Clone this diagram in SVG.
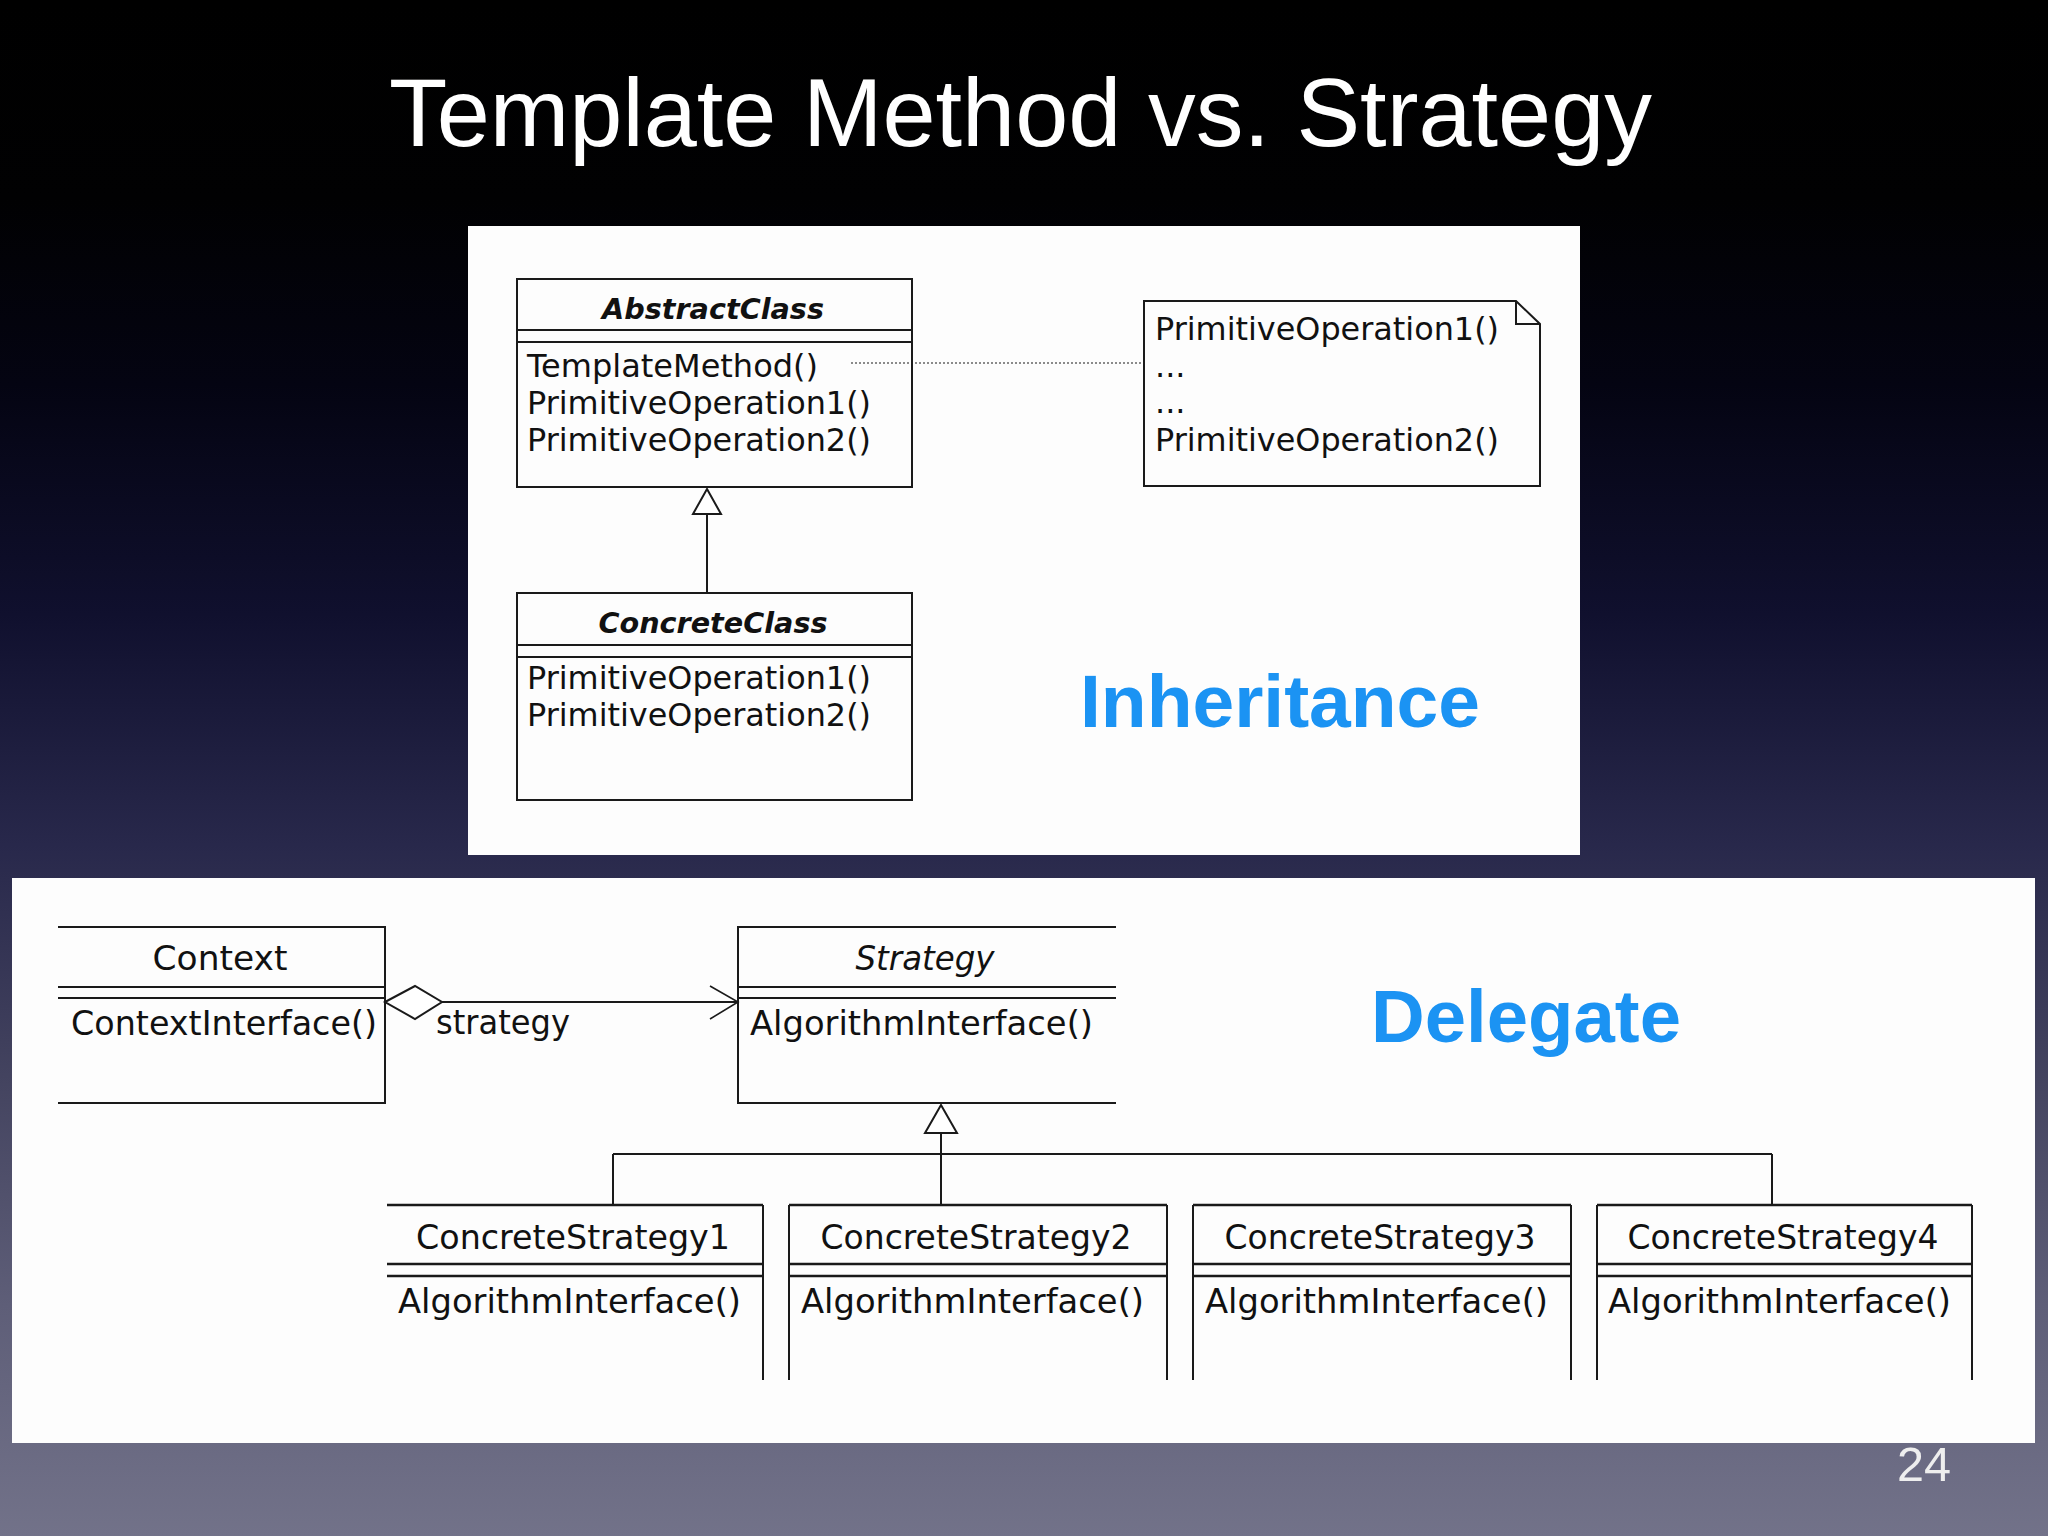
<svg xmlns="http://www.w3.org/2000/svg" width="2048" height="1536" viewBox="0 0 2048 1536">
<defs>
<linearGradient id="bg" x1="0" y1="0" x2="0" y2="1">
<stop offset="0" stop-color="#000000"/>
<stop offset="0.13" stop-color="#010102"/>
<stop offset="0.25" stop-color="#040412"/>
<stop offset="0.4" stop-color="#10102e"/>
<stop offset="0.55" stop-color="#28284b"/>
<stop offset="0.7" stop-color="#43435f"/>
<stop offset="0.85" stop-color="#5e5e78"/>
<stop offset="1" stop-color="#727289"/>
</linearGradient>
<style>
.ln{stroke:#1a1a1a;stroke-width:2;fill:none}
.tk{stroke:#1a1a1a;stroke-width:2.6;fill:none}
.sh{stroke:#1a1a1a;stroke-width:2;fill:#ffffff}
.tx{font-family:"DejaVu Sans",Verdana,sans-serif;font-size:32px;fill:#111111}
.bt{font-family:"DejaVu Sans",Verdana,sans-serif;font-size:33.5px;fill:#111111}
.ab{font-family:"DejaVu Sans",Verdana,sans-serif;font-size:29px;font-weight:bold;font-style:italic;fill:#111111}
.big{font-family:"Liberation Sans",Arial,sans-serif;font-size:75px;font-weight:bold;fill:#1b93f3}
.c{text-anchor:middle}
</style>
</defs>
<rect x="0" y="0" width="2048" height="1536" fill="url(#bg)"/>
<text x="389" y="146" font-family="'Liberation Sans',Arial,sans-serif" font-size="96" fill="#ffffff" textLength="1263" lengthAdjust="spacingAndGlyphs">Template Method vs. Strategy</text>

<rect x="468" y="226" width="1112" height="629" fill="#fdfdfd"/>
<rect x="12" y="878" width="2023" height="565" fill="#fdfdfd"/>

<g id="connectors">
<line x1="851" y1="363" x2="1144" y2="363" stroke="#666" stroke-width="1.5" stroke-dasharray="2 2"/>
<line class="ln" x1="707" y1="514" x2="707" y2="593"/>
<path class="sh" d="M707,489 L721,514 L693,514 Z"/>
<line class="ln" x1="442" y1="1002" x2="738" y2="1002"/>
<path class="sh" d="M385,1002 L415,986 L442,1002 L415,1019 Z" stroke-width="1.6"/>
<path d="M710,986 L738,1002 L710,1019" fill="none" stroke="#1a1a1a" stroke-width="1.6"/>
<text class="bt" x="436" y="1034" textLength="134" lengthAdjust="spacingAndGlyphs">strategy</text>
<line class="ln" x1="941" y1="1133" x2="941" y2="1205"/>
<path class="sh" d="M941,1105 L957,1133 L925,1133 Z"/>
<line class="ln" x1="613" y1="1154" x2="1772" y2="1154"/>
<line class="ln" x1="613" y1="1154" x2="613" y2="1205"/>
<line class="ln" x1="1772" y1="1154" x2="1772" y2="1205"/>
</g>

<g id="abstractclass">
<rect class="ln" x="517" y="279" width="395" height="208"/>
<line class="ln" x1="517" y1="330" x2="912" y2="330"/>
<line class="ln" x1="517" y1="342" x2="912" y2="342"/>
<text class="ab c" x="713" y="319" textLength="222" lengthAdjust="spacingAndGlyphs">AbstractClass</text>
<text class="tx" x="527" y="377">TemplateMethod()</text>
<text class="tx" x="527" y="414" textLength="344" lengthAdjust="spacingAndGlyphs">PrimitiveOperation1()</text>
<text class="tx" x="527" y="451" textLength="344" lengthAdjust="spacingAndGlyphs">PrimitiveOperation2()</text>
</g>

<g id="concreteclass">
<rect class="ln" x="517" y="593" width="395" height="207"/>
<line class="ln" x1="517" y1="645" x2="912" y2="645"/>
<line class="ln" x1="517" y1="657" x2="912" y2="657"/>
<text class="ab c" x="713" y="633" textLength="229" lengthAdjust="spacingAndGlyphs">ConcreteClass</text>
<text class="tx" x="527" y="689" textLength="344" lengthAdjust="spacingAndGlyphs">PrimitiveOperation1()</text>
<text class="tx" x="527" y="726" textLength="344" lengthAdjust="spacingAndGlyphs">PrimitiveOperation2()</text>
</g>

<g id="note">
<path class="ln" d="M1144,301 H1516 L1540,324 V486 H1144 Z"/>
<path class="ln" d="M1516,301 V324 H1540"/>
<text class="tx" x="1155" y="340" textLength="344" lengthAdjust="spacingAndGlyphs">PrimitiveOperation1()</text>
<text class="tx" x="1155" y="377">...</text>
<text class="tx" x="1155" y="413">...</text>
<text class="tx" x="1155" y="451" textLength="344" lengthAdjust="spacingAndGlyphs">PrimitiveOperation2()</text>
</g>

<g id="inheritance-label">
<text class="big" x="1080" y="727" textLength="400" lengthAdjust="spacingAndGlyphs">Inheritance</text>
</g>

<g id="context">
<path class="ln" d="M58,927 H385 V1103 H58"/>
<line class="ln" x1="58" y1="987" x2="385" y2="987"/>
<line class="ln" x1="58" y1="998" x2="385" y2="998"/>
<text class="bt c" x="220" y="970" textLength="135" lengthAdjust="spacingAndGlyphs">Context</text>
<text class="bt" x="71" y="1035" textLength="306" lengthAdjust="spacingAndGlyphs">ContextInterface()</text>
</g>

<g id="strategy">
<path class="ln" d="M1116,927 H738 V1103 H1116"/>
<line class="ln" x1="738" y1="987" x2="1116" y2="987"/>
<line class="ln" x1="738" y1="998" x2="1116" y2="998"/>
<text class="bt c" x="925" y="970" font-style="italic" textLength="139" lengthAdjust="spacingAndGlyphs">Strategy</text>
<text class="bt" x="750" y="1035" textLength="343" lengthAdjust="spacingAndGlyphs">AlgorithmInterface()</text>
</g>

<g id="concretestrategy1">
<line class="tk" x1="387" y1="1205" x2="763" y2="1205"/>
<line class="tk" x1="387" y1="1264" x2="763" y2="1264"/>
<line class="tk" x1="387" y1="1276" x2="763" y2="1276"/>
<line class="ln" x1="763" y1="1205" x2="763" y2="1380"/>
<text class="bt c" x="573" y="1249" textLength="314" lengthAdjust="spacingAndGlyphs">ConcreteStrategy1</text>
<text class="bt" x="398" y="1313" textLength="343" lengthAdjust="spacingAndGlyphs">AlgorithmInterface()</text>
</g>

<g id="concretestrategy2">
<line class="tk" x1="789" y1="1205" x2="1167" y2="1205"/>
<line class="tk" x1="789" y1="1264" x2="1167" y2="1264"/>
<line class="tk" x1="789" y1="1276" x2="1167" y2="1276"/>
<line class="ln" x1="789" y1="1205" x2="789" y2="1380"/>
<line class="ln" x1="1167" y1="1205" x2="1167" y2="1380"/>
<text class="bt c" x="976" y="1249" textLength="311" lengthAdjust="spacingAndGlyphs">ConcreteStrategy2</text>
<text class="bt" x="801" y="1313" textLength="343" lengthAdjust="spacingAndGlyphs">AlgorithmInterface()</text>
</g>

<g id="concretestrategy3">
<line class="tk" x1="1193" y1="1205" x2="1571" y2="1205"/>
<line class="tk" x1="1193" y1="1264" x2="1571" y2="1264"/>
<line class="tk" x1="1193" y1="1276" x2="1571" y2="1276"/>
<line class="ln" x1="1193" y1="1205" x2="1193" y2="1380"/>
<line class="ln" x1="1571" y1="1205" x2="1571" y2="1380"/>
<text class="bt c" x="1380" y="1249" textLength="311" lengthAdjust="spacingAndGlyphs">ConcreteStrategy3</text>
<text class="bt" x="1205" y="1313" textLength="343" lengthAdjust="spacingAndGlyphs">AlgorithmInterface()</text>
</g>

<g id="concretestrategy4">
<line class="tk" x1="1597" y1="1205" x2="1972" y2="1205"/>
<line class="tk" x1="1597" y1="1264" x2="1972" y2="1264"/>
<line class="tk" x1="1597" y1="1276" x2="1972" y2="1276"/>
<line class="ln" x1="1597" y1="1205" x2="1597" y2="1380"/>
<line class="ln" x1="1972" y1="1205" x2="1972" y2="1380"/>
<text class="bt c" x="1783" y="1249" textLength="311" lengthAdjust="spacingAndGlyphs">ConcreteStrategy4</text>
<text class="bt" x="1608" y="1313" textLength="343" lengthAdjust="spacingAndGlyphs">AlgorithmInterface()</text>
</g>

<g id="delegate-label">
<text class="big" x="1371" y="1042" textLength="310" lengthAdjust="spacingAndGlyphs">Delegate</text>
</g>

<text x="1897" y="1481" font-family="'Liberation Sans',Arial,sans-serif" font-size="48" fill="#eeeeee" textLength="54" lengthAdjust="spacingAndGlyphs">24</text>
</svg>
